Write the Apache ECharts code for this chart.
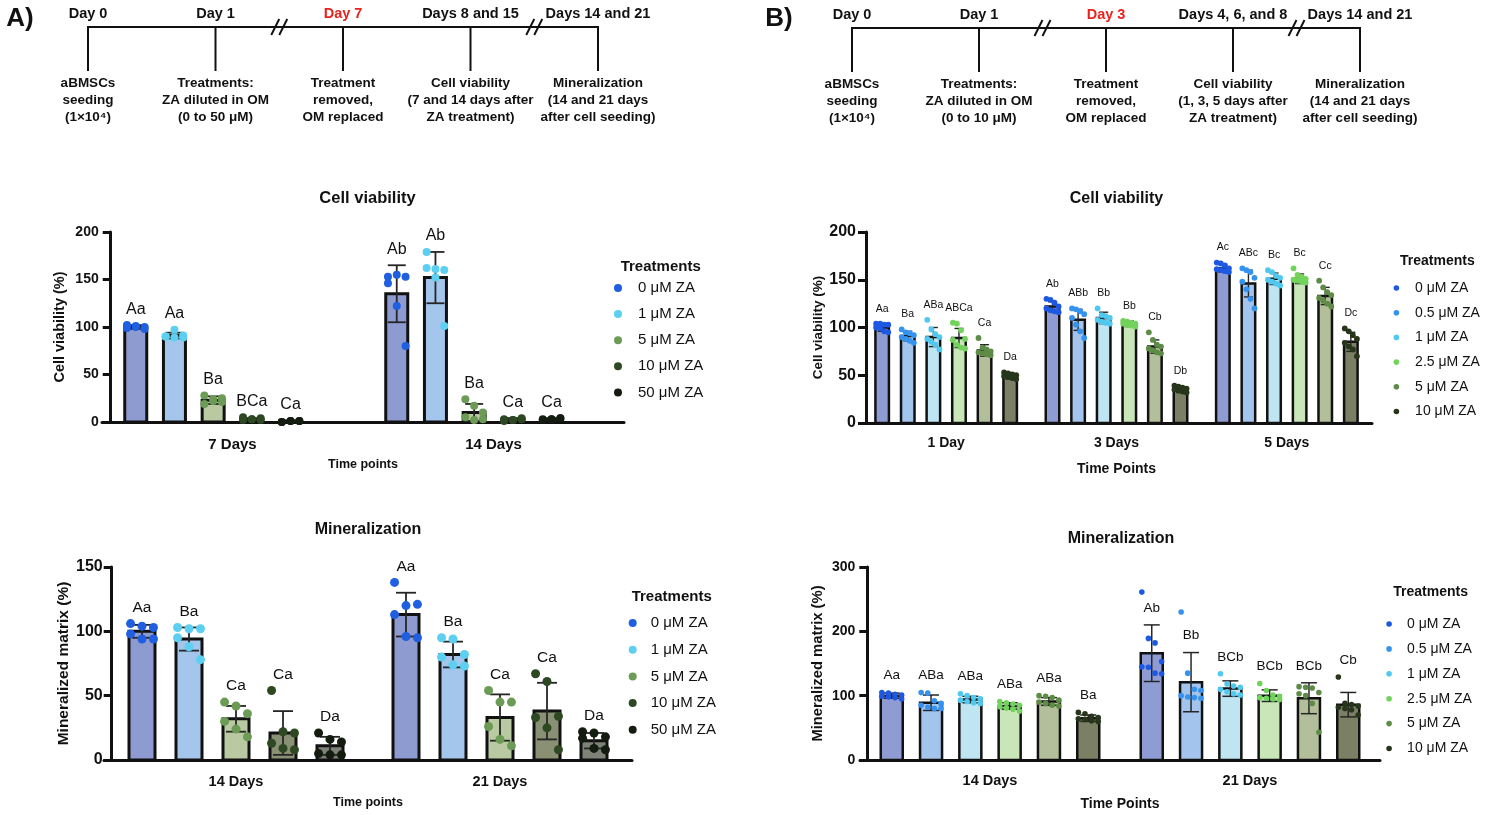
<!DOCTYPE html>
<html>
<head>
<meta charset="utf-8">
<title>ZA treatments: cell viability and mineralization</title>
<script src="https://cdn.jsdelivr.net/npm/echarts@6.0.0/dist/echarts.min.js"></script>
<style>
  html, body { margin: 0; background: #fff; }
  #chart { width: 1500px; height: 815px; }
</style>
</head>
<body>
<div id="chart"></div>
<script>
const FONT = '"Liberation Sans", Arial, Helvetica, sans-serif';
const INK = "#111";

// timelines
const timelineTopA = ["Day 0", "Day 1", "Day 7", "Days 8 and 15", "Days 14 and 21"];
const timelineBottomA = [
  "aBMSCs\nseeding\n(1×10⁴)",
  "Treatments:\nZA diluted in OM\n(0 to 50 μM)",
  "Treatment\nremoved,\nOM replaced",
  "Cell viability\n(7 and 14 days after\nZA treatment)",
  "Mineralization\n(14 and 21 days\nafter cell seeding)",
];
const timelineTopB = ["Day 0", "Day 1", "Day 3", "Days 4, 6, and 8", "Days 14 and 21"];
const timelineBottomB = [
  "aBMSCs\nseeding\n(1×10⁴)",
  "Treatments:\nZA diluted in OM\n(0 to 10 μM)",
  "Treatment\nremoved,\nOM replaced",
  "Cell viability\n(1, 3, 5 days after\nZA treatment)",
  "Mineralization\n(14 and 21 days\nafter cell seeding)",
];
const timelineBreaks = [1, 3]; // "//" drawn after these events
const timelineRed = 2;

// panel A
const treatmentsA = ["0 μM ZA", "1 μM ZA", "5 μM ZA", "10 μM ZA", "50 μM ZA"];
const viabilityDaysA = ["7 Days", "14 Days"];
const viabilityMeanA = [[100, 135], [91, 152], [23, 10], [3, 3], [1, 3]];
const viabilitySdA = [[2, 30], [3, 27], [4, 9], [1, 1], [0.5, 1]];
const viabilityPointsA = [
  [[102, 101, 100, 99, 100, 98], [153, 155, 153, 146, 122, 80]],
  [[90, 89, 91, 90, 97, 89], [179, 161, 160, 162, 152, 101]],
  [[19, 22, 25, 28, 24, 21], [24, 17, 3, 5, 2, 10]],
  [[2, 3, 4, 5, 3, 2], [1, 2, 4, 3, 2, 3]],
  [[0, 1, 1, 0, 1, 1], [2, 3, 4, 3, 3, 4]],
];
const viabilityLettersA = [["Aa", "Ab"], ["Aa", "Ab"], ["Ba", "Ba"], ["BCa", "Ca"], ["Ca", "Ca"]];

const mineralDaysA = ["14 Days", "21 Days"];
const mineralMeanA = [[100, 113], [94, 82], [32, 33], [21, 38], [11, 15]];
const mineralSdA = [[5, 17], [9, 10], [10, 18], [17, 22], [7, 6]];
const mineralPointsA = [
  [[106, 104, 103, 98, 94, 94], [138, 120, 121, 113, 96, 95]],
  [[103, 102, 102, 95, 88, 78], [95, 94, 82, 80, 74, 73]],
  [[45, 42, 36, 30, 24, 18], [54, 45, 45, 26, 16, 11]],
  [[54, 22, 21, 13, 9, 8], [67, 61, 34, 33, 25, 8]],
  [[21, 16, 14, 5, 4, 4], [22, 21, 18, 17, 9, 8]],
];
const mineralLettersA = [["Aa", "Aa"], ["Ba", "Ba"], ["Ca", "Ca"], ["Ca", "Ca"], ["Da", "Da"]];

// panel B
const treatmentsB = ["0 μM ZA", "0.5 μM ZA", "1 μM ZA", "2.5 μM ZA", "5 μM ZA", "10 μM ZA"];
const viabilityDaysB = ["1 Day", "3 Days", "5 Days"];
const viabilityMeanB = [[100, 122, 162], [91, 108, 146], [90, 110, 151], [89, 104, 151], [76, 80, 133], [49, 35, 85]];
const viabilitySdB = [[4, 5, 4], [5, 11, 14], [10, 6, 6], [10, 3, 5], [6, 7, 9], [3, 3, 10]];
const viabilityPointsB = [
  [[104, 104, 103, 103, 100, 99, 96, 95], [130, 129, 126, 122, 120, 118, 117, 116], [168, 167, 165, 162, 161, 160, 159, 158]],
  [[98, 95, 94, 92, 90, 88, 86, 84], [120, 119, 117, 114, 110, 103, 96, 89], [162, 160, 158, 152, 148, 140, 130, 120]],
  [[108, 98, 93, 90, 88, 85, 82, 77], [120, 113, 112, 110, 108, 106, 105, 104], [160, 158, 154, 152, 150, 148, 146, 144]],
  [[105, 104, 97, 88, 87, 82, 79, 78], [107, 106, 105, 104, 104, 103, 102, 101], [162, 155, 153, 151, 150, 149, 148, 147]],
  [[89, 79, 77, 75, 74, 73, 72, 71], [95, 87, 82, 80, 78, 76, 74, 73], [149, 142, 137, 134, 131, 128, 125, 122]],
  [[53, 52, 51, 50, 49, 48, 47, 46], [39, 38, 37, 36, 35, 34, 33, 32], [99, 96, 92, 88, 84, 80, 77, 70]],
];
const viabilityLettersB = [
  ["Aa", "Ab", "Ac"], ["Ba", "ABb", "ABc"], ["ABa", "Bb", "Bc"],
  ["ABCa", "Bb", "Bc"], ["Ca", "Cb", "Cc"], ["Da", "Db", "Dc"],
];

const mineralDaysB = ["14 Days", "21 Days"];
const mineralMeanB = [[100, 166], [89, 121], [94, 111], [84, 100], [91, 96], [65, 86]];
const mineralSdB = [[4, 44], [12, 46], [5, 12], [5, 9], [6, 24], [5, 19]];
const mineralPointsB = [
  [[105, 104, 102, 101, 99, 98, 97, 95], [261, 189, 182, 153, 145, 144, 135, 134]],
  [[105, 104, 92, 88, 85, 82, 80, 80], [230, 135, 110, 108, 100, 98, 97, 96]],
  [[103, 100, 97, 95, 93, 91, 89, 88], [134, 118, 115, 113, 110, 106, 103, 101]],
  [[91, 89, 87, 85, 83, 81, 79, 76], [119, 108, 101, 99, 97, 96, 95, 94]],
  [[100, 99, 97, 93, 90, 88, 85, 84], [114, 113, 112, 105, 103, 100, 88, 43]],
  [[74, 72, 68, 66, 64, 63, 61, 60], [129, 88, 86, 84, 82, 80, 78, 70]],
];
const mineralLettersB = [["Aa", "Ab"], ["ABa", "Bb"], ["ABa", "BCb"], ["ABa", "BCb"], ["ABa", "BCb"], ["Ba", "Cb"]];

const barFillsA = ["#8e9bd1", "#a4c6ec", "#b9caa2", "#8a9074", "#7f8277"];
const dotColorsA = ["#1f5fe0", "#5dcff0", "#6b9b55", "#2f4824", "#141c10"];
const barFillsB = ["#8f9cd3", "#a3c4ed", "#bfe5f3", "#c9e6b9", "#b3be9b", "#7b7f63"];
const dotColorsB = ["#1d58e3", "#3592ee", "#50c8ef", "#72d35c", "#5e8c47", "#27361b"];

const jitter6 = [-0.4, 0, 0.4, -0.4, 0, 0.4];
const jitter8 = [-0.45, -0.15, 0.15, 0.45, -0.45, -0.15, 0.15, 0.45];

const panels = [
  { id: "A1", names: treatmentsA, mean: viabilityMeanA, sd: viabilitySdA, points: viabilityPointsA, letters: viabilityLettersA,
    fills: barFillsA, dots: dotColorsA, slots: 6, step: 38.7, barW: 22, barLine: 3, cap: 18, errLine: 1.8, dotR: 4,
    jitter: jitter6, lblSize: 16, lblGap: 16 },
  { id: "A2", names: treatmentsA, mean: mineralMeanA, sd: mineralSdA, points: mineralPointsA, letters: mineralLettersA,
    fills: barFillsA, dots: dotColorsA, slots: 5, step: 47, barW: 26, barLine: 3, cap: 20, errLine: 1.8, dotR: 4.5,
    jitter: jitter6.map((j) => j * 1.1), lblSize: 15.5, lblGap: 16 },
  { id: "B1", names: treatmentsB, mean: viabilityMeanB, sd: viabilitySdB, points: viabilityPointsB, letters: viabilityLettersB,
    fills: barFillsB, dots: dotColorsB, slots: 6, step: 25.6, barW: 13.5, barLine: 2.5, cap: 9, errLine: 1.4, dotR: 2.9,
    jitter: jitter8, lblSize: 10.5, lblGap: 15 },
  { id: "B2", names: treatmentsB, mean: mineralMeanB, sd: mineralSdB, points: mineralPointsB, letters: mineralLettersB,
    fills: barFillsB, dots: dotColorsB, slots: 6, step: 39.3, barW: 22, barLine: 2.5, cap: 16, errLine: 1.5, dotR: 2.8,
    jitter: jitter8, lblSize: 13.5, lblGap: 17 },
];

function panelSeries(p, axis) {
  return p.mean.map((row, i) => ({
    type: "custom",
    name: p.id + "|" + p.names[i],
    xAxisIndex: axis,
    yAxisIndex: axis,
    silent: true,
    itemStyle: { color: p.dots[i] },
    data: row.map((m, t) => [t, m, p.sd[i][t]]),
    renderItem(params, api) {
      const t = api.value(0);
      const mean = api.value(1);
      const sd = api.value(2);
      const zero = api.coord([t, 0]);
      const cx = zero[0] + (i - (p.slots - 1) / 2) * p.step;
      const y = (v) => api.coord([t, v])[1];
      const yMean = y(mean);
      const yHi = y(mean + sd);
      const yLo = y(Math.max(mean - sd, 0));
      const err = { stroke: "#262626", lineWidth: p.errLine };
      const kids = [
        { type: "rect", shape: { x: cx - p.barW / 2, y: yMean, width: p.barW, height: zero[1] - yMean },
          style: { fill: p.fills[i], stroke: INK, lineWidth: p.barLine } },
        { type: "line", shape: { x1: cx, y1: yLo, x2: cx, y2: yHi }, style: err },
        { type: "line", shape: { x1: cx - p.cap / 2, y1: yHi, x2: cx + p.cap / 2, y2: yHi }, style: err },
        { type: "line", shape: { x1: cx - p.cap / 2, y1: yLo, x2: cx + p.cap / 2, y2: yLo }, style: err },
      ];
      const vals = p.points[i][t];
      vals.forEach((v, k) => kids.push({
        type: "circle",
        shape: { cx: cx + p.jitter[k % p.jitter.length] * p.barW, cy: y(v), r: p.dotR },
        style: { fill: p.dots[i] },
      }));
      // letters sit over the error bar, or over the top dot unless it is a far outlier
      const ptTop = Math.min(...vals.map(y));
      const anchor = ptTop < yHi && yHi - ptTop < 25 ? ptTop : yHi;
      kids.push({
        type: "text",
        style: { text: p.letters[i][t], x: cx, y: anchor - p.lblGap, align: "center", verticalAlign: "middle",
          font: p.lblSize + "px " + FONT, fill: INK },
      });
      return { type: "group", children: kids };
    },
  }));
}

function timelineSeries(axis, tops, bottoms) {
  const line = { stroke: INK, lineWidth: 2, lineCap: "square" };
  return {
    type: "custom",
    xAxisIndex: axis,
    yAxisIndex: axis,
    silent: true,
    data: tops.map((_, k) => [k, 1]),
    renderItem(params, api) {
      const k = api.value(0);
      const hi = api.coord([k, 1]);
      const lo = api.coord([k, 0]);
      const kids = [{ type: "line", shape: { x1: hi[0], y1: hi[1], x2: lo[0], y2: lo[1] }, style: line }];
      if (k < tops.length - 1) {
        const next = api.coord([k + 1, 1]);
        kids.push({ type: "line", shape: { x1: hi[0], y1: hi[1], x2: next[0], y2: next[1] }, style: line });
        if (timelineBreaks.includes(k)) {
          const mx = (hi[0] + next[0]) / 2;
          for (const dx of [-4, 4]) {
            kids.push({ type: "line", shape: { x1: mx + dx - 4, y1: hi[1] + 8, x2: mx + dx + 4, y2: hi[1] - 8 },
              style: { stroke: INK, lineWidth: 2 } });
          }
        }
      }
      kids.push({
        type: "text",
        style: { text: tops[k], x: hi[0], y: hi[1] - 13, align: "center", verticalAlign: "middle",
          font: "bold 14.5px " + FONT, fill: k === timelineRed ? "#e8231f" : INK },
      });
      kids.push({
        type: "text",
        style: { text: bottoms[k], x: lo[0], y: lo[1] + 5, align: "center", verticalAlign: "top",
          lineHeight: 17, font: "bold 13.5px " + FONT, fill: INK },
      });
      return { type: "group", children: kids };
    },
  };
}

function catAxis(gridIndex, data, o) {
  return {
    gridIndex, type: "category", data,
    axisLine: { lineStyle: { color: INK, width: 3 } },
    axisTick: { alignWithLabel: true, interval: 0, length: 8, lineStyle: { color: INK, width: 3 } },
    axisLabel: { interval: 0, margin: o.margin, color: INK, fontWeight: "bold", fontSize: o.size, fontFamily: FONT },
    name: o.name, nameLocation: "middle", nameGap: o.nameGap,
    nameTextStyle: { color: INK, fontWeight: "bold", fontSize: o.nameSize, fontFamily: FONT },
  };
}

function valAxis(gridIndex, max, interval, o) {
  return {
    gridIndex, type: "value", min: 0, max, interval, offset: o.offset,
    axisLine: { show: true, lineStyle: { color: INK, width: 3 } },
    axisTick: { show: true, length: 8, lineStyle: { color: INK, width: 3 } },
    splitLine: { show: false },
    axisLabel: { margin: o.margin, color: INK, fontWeight: "bold", fontSize: o.size, fontFamily: FONT },
    name: o.name, nameLocation: "middle", nameRotate: 90, nameGap: o.nameGap,
    nameTextStyle: { color: INK, fontWeight: "bold", fontSize: o.nameSize, fontFamily: FONT },
  };
}

function legendFor(p, o) {
  return {
    orient: "vertical", left: o.left, top: o.top, padding: 0, itemGap: o.gap,
    itemWidth: o.w, itemHeight: o.r * 2, selectedMode: false,
    data: p.names.map((n, i) => ({ name: p.id + "|" + n, icon: "circle", itemStyle: { color: p.dots[i] } })),
    formatter: (name) => name.split("|")[1],
    textStyle: { color: INK, fontSize: o.size, fontFamily: FONT, lineHeight: 16 },
  };
}

function label(text, x, y, size, align) {
  return { type: "text", x, y, style: { text, align: align || "center", verticalAlign: "middle",
    font: "bold " + size + "px " + FONT, fill: INK } };
}

const hidden = { show: false };
const option = {
  animation: false,
  backgroundColor: "#fff",
  grid: [
    { left: 102, top: 232, width: 522, height: 190 },
    { left: 104, top: 567, width: 528, height: 193 },
    { left: 861, top: 232, width: 511, height: 191 },
    { left: 860, top: 567, width: 520, height: 193 },
    { left: 88, top: 27, width: 510, height: 43 },
    { left: 852, top: 28, width: 508, height: 43 },
  ].map((g) => ({ ...g, containLabel: false, outerBoundsMode: "none" })),
  xAxis: [
    catAxis(0, viabilityDaysA, { margin: 15, size: 15, name: "Time points", nameGap: 36, nameSize: 12.5 }),
    catAxis(1, mineralDaysA, { margin: 14, size: 14.5, name: "Time points", nameGap: 36, nameSize: 12.5 }),
    catAxis(2, viabilityDaysB, { margin: 13, size: 14, name: "Time Points", nameGap: 39, nameSize: 14 }),
    catAxis(3, mineralDaysB, { margin: 13, size: 14.5, name: "Time Points", nameGap: 37, nameSize: 14 }),
    { gridIndex: 4, type: "category", data: timelineTopA, boundaryGap: false, ...hidden },
    { gridIndex: 5, type: "category", data: timelineTopB, boundaryGap: false, ...hidden },
  ],
  yAxis: [
    valAxis(0, 200, 50, { offset: -8.7, margin: 12, size: 14, name: "Cell viability (%)", nameGap: 43, nameSize: 14.5 }),
    valAxis(1, 150, 50, { offset: -7.7, margin: 9, size: 16, name: "Mineralized matrix (%)", nameGap: 39, nameSize: 15.5 }),
    valAxis(2, 200, 50, { offset: -5, margin: 10, size: 16, name: "Cell viability (%)", nameGap: 41, nameSize: 13.5 }),
    valAxis(3, 300, 100, { offset: -7.3, margin: 12, size: 14, name: "Mineralized matrix (%)", nameGap: 41.5, nameSize: 14.8 }),
    { gridIndex: 4, type: "value", min: 0, max: 1, ...hidden },
    { gridIndex: 5, type: "value", min: 0, max: 1, ...hidden },
  ],
  legend: [
    legendFor(panels[0], { left: 614, top: 280, gap: 10.1, w: 30, r: 4, size: 15 }),
    legendFor(panels[1], { left: 628.7, top: 615, gap: 10.7, w: 26, r: 4, size: 15 }),
    legendFor(panels[2], { left: 1393.6, top: 280, gap: 8.7, w: 27.4, r: 2.8, size: 14 }),
    legendFor(panels[3], { left: 1386.3, top: 616, gap: 8.9, w: 26, r: 2.8, size: 14 }),
  ],
  graphic: { elements: [
    label("A)", 20, 19, 26),
    label("B)", 779, 19, 26),
    label("Cell viability", 367.5, 198, 16.5),
    label("Mineralization", 368, 530, 16),
    label("Cell viability", 1116.5, 198.3, 16),
    label("Mineralization", 1121, 538.3, 16),
    label("Treatments", 620.7, 267, 15, "left"),
    label("Treatments", 631.7, 597.3, 15, "left"),
    label("Treatments", 1400, 261, 14, "left"),
    label("Treatments", 1393.3, 592.3, 14, "left"),
  ] },
  series: [
    ...panels.flatMap((p, k) => panelSeries(p, k)),
    timelineSeries(4, timelineTopA, timelineBottomA),
    timelineSeries(5, timelineTopB, timelineBottomB),
  ],
};

const chart = echarts.init(document.getElementById("chart"), null, { renderer: "canvas" });
chart.setOption(option);
</script>
</body>
</html>
